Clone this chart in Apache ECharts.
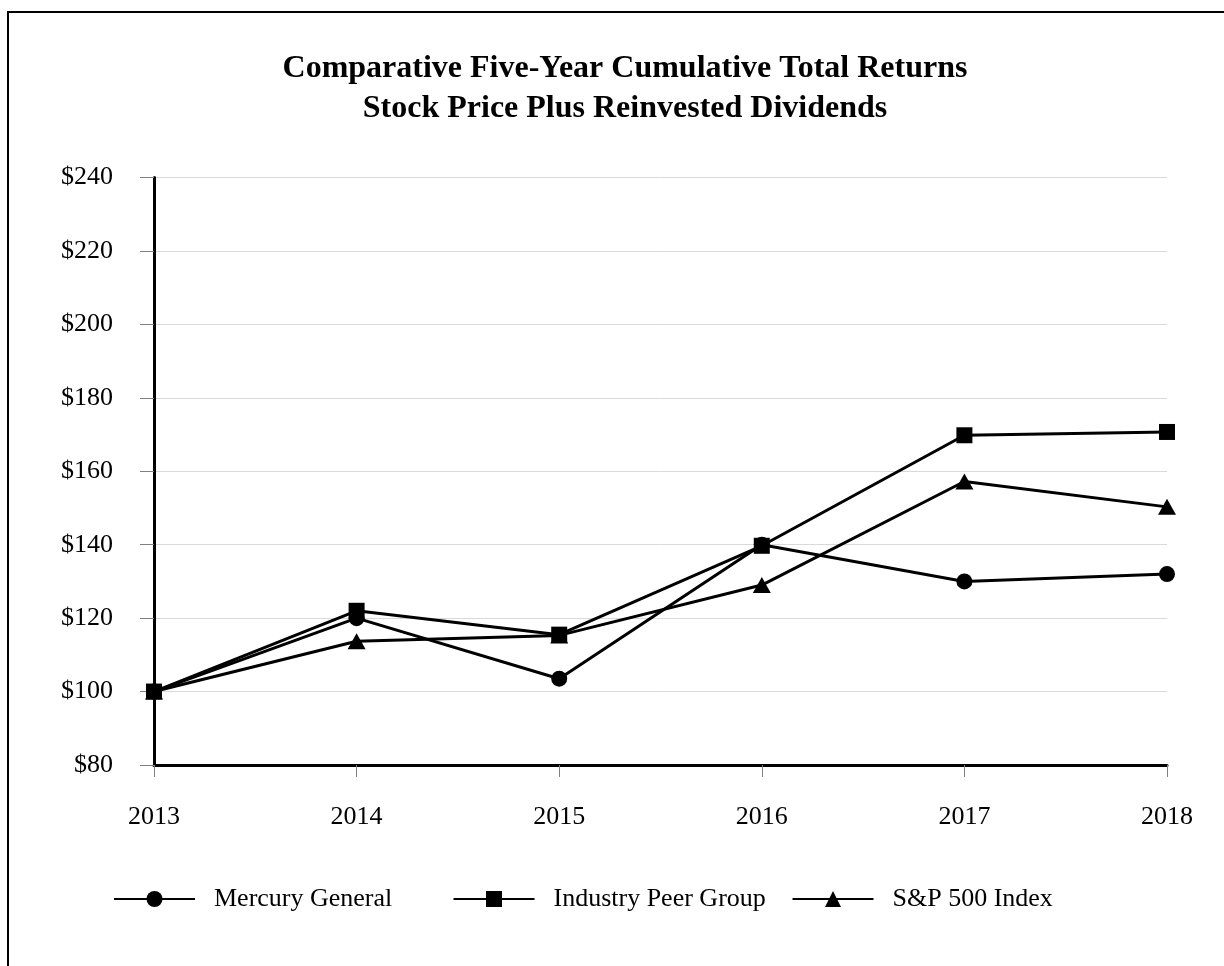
<!DOCTYPE html>
<html>
<head>
<meta charset="utf-8">
<script src="https://cdn.jsdelivr.net/npm/echarts@6/dist/echarts.min.js"></script>
<style>
html,body{margin:0;padding:0;background:#fff;}
#chart{width:1224px;height:966px;}
</style>
</head>
<body>
<div id="chart"></div>
<script>
const years = ['2013', '2014', '2015', '2016', '2017', '2018'];
const mercuryGeneral = [100, 120, 103.5, 140, 130, 132];
const industryPeerGroup = [100, 122, 115.5, 139.7, 169.8, 170.7];
const sp500Index = [100, 113.7, 115.3, 129, 157.2, 150.3];
const seriesNames = ['Mercury General', 'Industry Peer Group', 'S&P 500 Index'];
const titleLines = ['Comparative Five-Year Cumulative Total Returns', 'Stock Price Plus Reinvested Dividends'];

const FONT = '"Liberation Serif", "Times New Roman", serif';
const chart = echarts.init(document.getElementById('chart'));

function legendAt(name, left) {
  return {
    data: [name],
    left: left,
    top: 886,
    padding: 0,
    itemWidth: 81,
    itemHeight: 20,
    selectedMode: false,
    textStyle: { fontFamily: FONT, fontSize: 26, color: '#000', padding: [0, 0, 0, 14] }
  };
}

const option = {
  animation: false,
  backgroundColor: '#fff',
  title: {
    text: titleLines.join('\n'),
    left: 620,
    top: 44,
    textAlign: 'center',
    textStyle: { fontFamily: FONT, fontSize: 32, fontWeight: 'bold', color: '#000', lineHeight: 40 }
  },
  graphic: [{
    type: 'rect',
    shape: { x: 8, y: 12, width: 1400, height: 1200 },
    style: { fill: 'none', stroke: '#000', lineWidth: 2 },
    silent: true
  }],
  legend: [
    legendAt(seriesNames[0], 113),
    legendAt(seriesNames[1], 452.5),
    legendAt(seriesNames[2], 791.5)
  ],
  grid: { left: 154, right: 57, top: 177.5, bottom: 201 },
  xAxis: {
    type: 'category',
    data: years,
    boundaryGap: false,
    axisLine: { lineStyle: { color: '#000', width: 3 } },
    axisTick: { show: true, alignWithLabel: true, length: 12, lineStyle: { color: '#808080', width: 1 } },
    axisLabel: { fontFamily: FONT, fontSize: 26, color: '#000', margin: 39 },
    splitLine: { show: false }
  },
  yAxis: {
    type: 'value',
    min: 80,
    max: 240,
    interval: 20,
    axisLine: { show: true, lineStyle: { color: '#000', width: 3 } },
    axisTick: { show: true, length: 14, lineStyle: { color: '#808080', width: 1 } },
    axisLabel: { fontFamily: FONT, fontSize: 26, color: '#000', margin: 41, formatter: v => '$' + v },
    splitLine: { show: true, lineStyle: { color: '#d9d9d9', width: 1 } }
  },
  series: [
    {
      name: seriesNames[0], type: 'line', data: mercuryGeneral,
      symbol: 'circle', symbolSize: 16, showAllSymbol: true,
      lineStyle: { color: '#000', width: 3 }, itemStyle: { color: '#000' }
    },
    {
      name: seriesNames[1], type: 'line', data: industryPeerGroup,
      symbol: 'rect', symbolSize: 16, showAllSymbol: true,
      lineStyle: { color: '#000', width: 3 }, itemStyle: { color: '#000' }
    },
    {
      name: seriesNames[2], type: 'line', data: sp500Index,
      symbol: 'triangle', symbolSize: [18, 16], showAllSymbol: true,
      lineStyle: { color: '#000', width: 3 }, itemStyle: { color: '#000' }
    }
  ]
};
chart.setOption(option);
</script>
</body>
</html>
